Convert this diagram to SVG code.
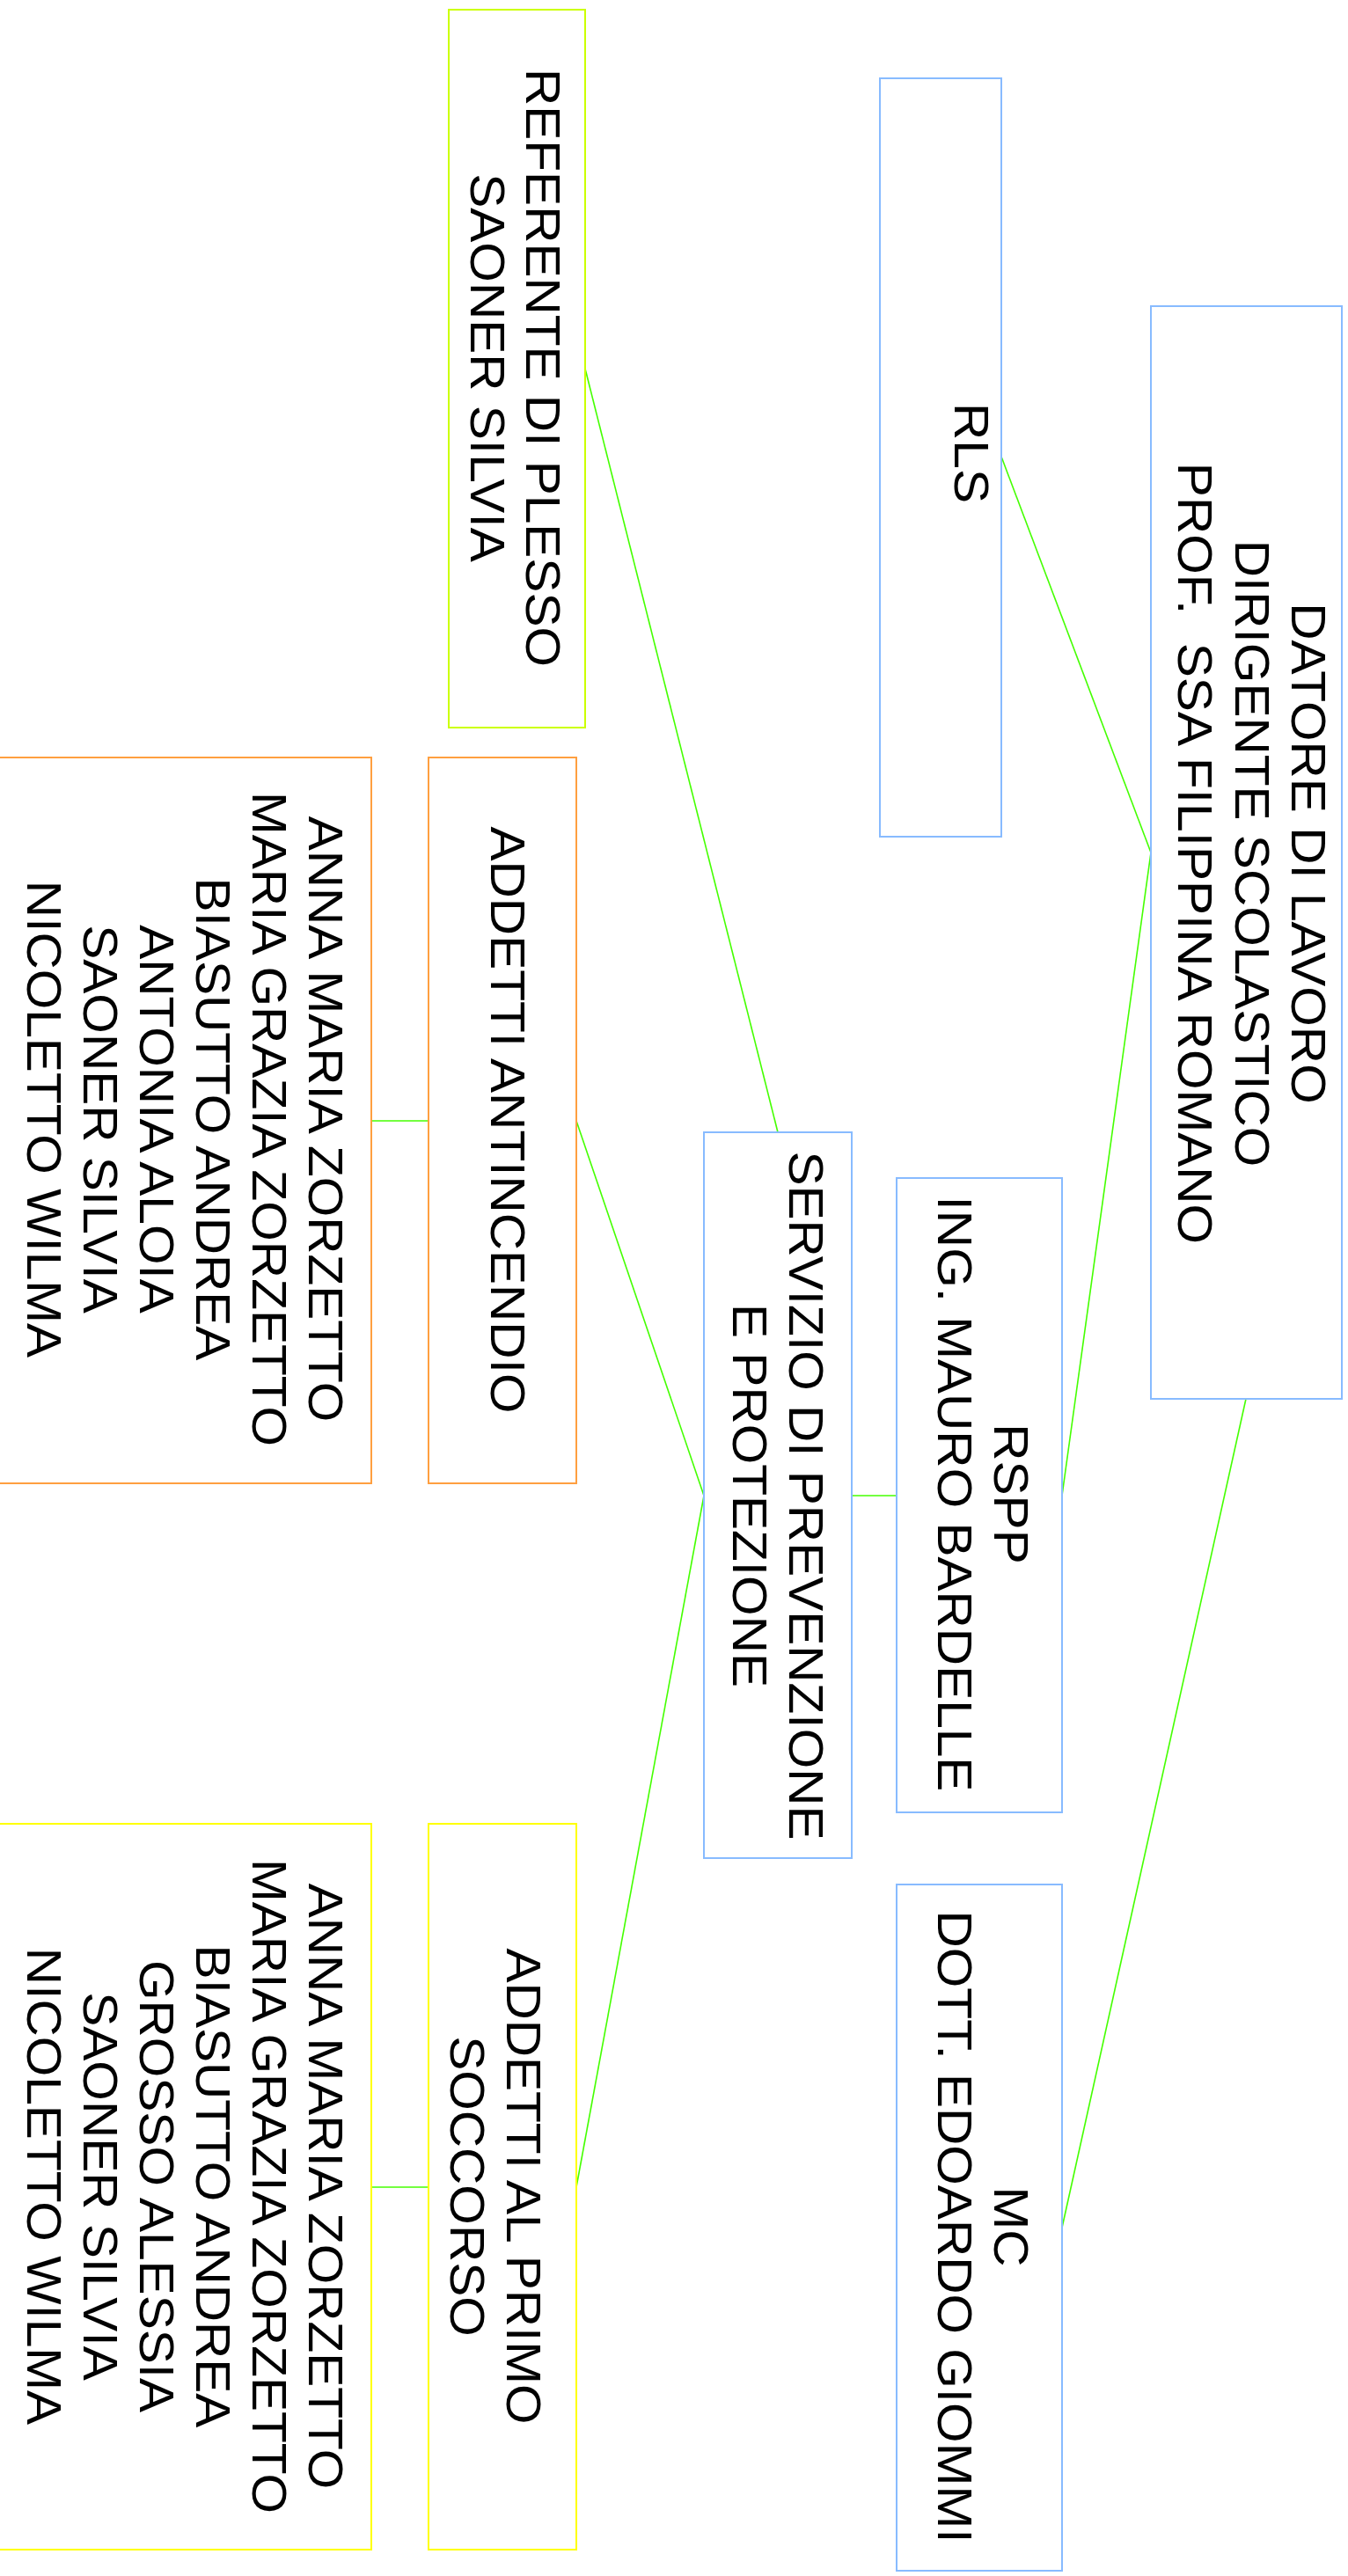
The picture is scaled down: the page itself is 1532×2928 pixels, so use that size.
<svg xmlns="http://www.w3.org/2000/svg" width="1532" height="2928" viewBox="0 0 1532 2928">
<style>
.t{font-family:"Liberation Sans",Arial,sans-serif;font-size:55px;text-anchor:middle;fill:#000}
.box{fill:#fff;stroke-width:2}
.blue{stroke:#88bbff}
.lime{stroke:#ccff00}
.orange{stroke:#ff9f40}
.yellow{stroke:#ffff00}
.conn{stroke:#44ff00;stroke-width:1.6;fill:none}
</style>
<rect width="1532" height="2928" fill="#fff"/>
<g id="connectors">
<path class="conn" d="M1308,969 L1138,519"/>
<path class="conn" d="M1308,969 L1207,1700"/>
<path class="conn" d="M1416,1590 L1207,2532"/>
<path class="conn" d="M1019,1700 L968,1700"/>
<path class="conn" d="M884,1287 L665,419"/>
<path class="conn" d="M800,1700 L655,1274"/>
<path class="conn" d="M800,1700 L655,2486"/>
<path class="conn" d="M487,1274 L422,1274"/>
<path class="conn" d="M487,2486 L422,2486"/>
</g>
<g id="datore">
<rect class="box blue" x="1308" y="348" width="217" height="1242"/>
<g transform="translate(1488,970) rotate(90) scale(1.065,1)"><text class="t" xml:space="preserve"><tspan x="0" y="19.7">DATORE DI LAVORO</tspan><tspan x="0" y="84.2">DIRIGENTE SCOLASTICO</tspan><tspan x="0" y="148.7">PROF.  SSA FILIPPINA ROMANO</tspan></text></g>
</g>
<g id="rls">
<rect class="box blue" x="1000" y="89" width="138" height="862"/>
<g transform="translate(1105,515) rotate(90) scale(1.065,1)"><text class="t"><tspan x="0" y="19.7">RLS</tspan></text></g>
</g>
<g id="referente">
<rect class="box lime" x="510" y="11" width="155" height="816"/>
<g transform="translate(618,418) rotate(90) scale(1.065,1)"><text class="t"><tspan x="0" y="19.7">REFERENTE DI PLESSO</tspan><tspan x="0" y="82.7">SAONER SILVIA</tspan></text></g>
</g>
<g id="servizio">
<rect class="box blue" x="800" y="1287" width="168" height="825"/>
<g transform="translate(917,1700) rotate(90) scale(1.065,1)"><text class="t"><tspan x="0" y="19.7">SERVIZIO DI PREVENZIONE</tspan><tspan x="0" y="83.7">E PROTEZIONE</tspan></text></g>
</g>
<g id="rspp">
<rect class="box blue" x="1019" y="1339" width="188" height="721"/>
<g transform="translate(1150,1698) rotate(90) scale(1.065,1)"><text class="t"><tspan x="0" y="19.7">RSPP</tspan><tspan x="0" y="83.7">ING. MAURO BARDELLE</tspan></text></g>
</g>
<g id="mc">
<rect class="box blue" x="1019" y="2142" width="188" height="780"/>
<g transform="translate(1150,2531) rotate(90) scale(1.065,1)"><text class="t"><tspan x="0" y="19.7">MC</tspan><tspan x="0" y="83.7">DOTT. EDOARDO GIOMMI</tspan></text></g>
</g>
<g id="antincendio">
<rect class="box orange" x="487" y="861" width="168" height="825"/>
<g transform="translate(578,1273) rotate(90) scale(1.065,1)"><text class="t"><tspan x="0" y="19.7">ADDETTI ANTINCENDIO</tspan></text></g>
</g>
<g id="antincendio-nomi">
<rect class="box orange" x="-5" y="861" width="427" height="825"/>
<g transform="translate(370.5,1272) rotate(90) scale(1.065,1)"><text class="t"><tspan x="0" y="19.7">ANNA MARIA ZORZETTO</tspan><tspan x="0" y="83.7">MARIA GRAZIA ZORZETTO</tspan><tspan x="0" y="147.7">BIASUTTO ANDREA</tspan><tspan x="0" y="211.7">ANTONIA ALOIA</tspan><tspan x="0" y="275.7">SAONER SILVIA</tspan><tspan x="0" y="339.7">NICOLETTO WILMA</tspan></text></g>
</g>
<g id="primo-soccorso">
<rect class="box yellow" x="487" y="2073" width="168" height="825"/>
<g transform="translate(596,2485) rotate(90) scale(1.065,1)"><text class="t"><tspan x="0" y="19.7">ADDETTI AL PRIMO</tspan><tspan x="0" y="83.7">SOCCORSO</tspan></text></g>
</g>
<g id="primo-soccorso-nomi">
<rect class="box yellow" x="-5" y="2073" width="427" height="825"/>
<g transform="translate(370.5,2485) rotate(90) scale(1.065,1)"><text class="t"><tspan x="0" y="19.7">ANNA MARIA ZORZETTO</tspan><tspan x="0" y="83.7">MARIA GRAZIA ZORZETTO</tspan><tspan x="0" y="147.7">BIASUTTO ANDREA</tspan><tspan x="0" y="211.7">GROSSO ALESSIA</tspan><tspan x="0" y="275.7">SAONER SILVIA</tspan><tspan x="0" y="339.7">NICOLETTO WILMA</tspan></text></g>
</g>
</svg>
